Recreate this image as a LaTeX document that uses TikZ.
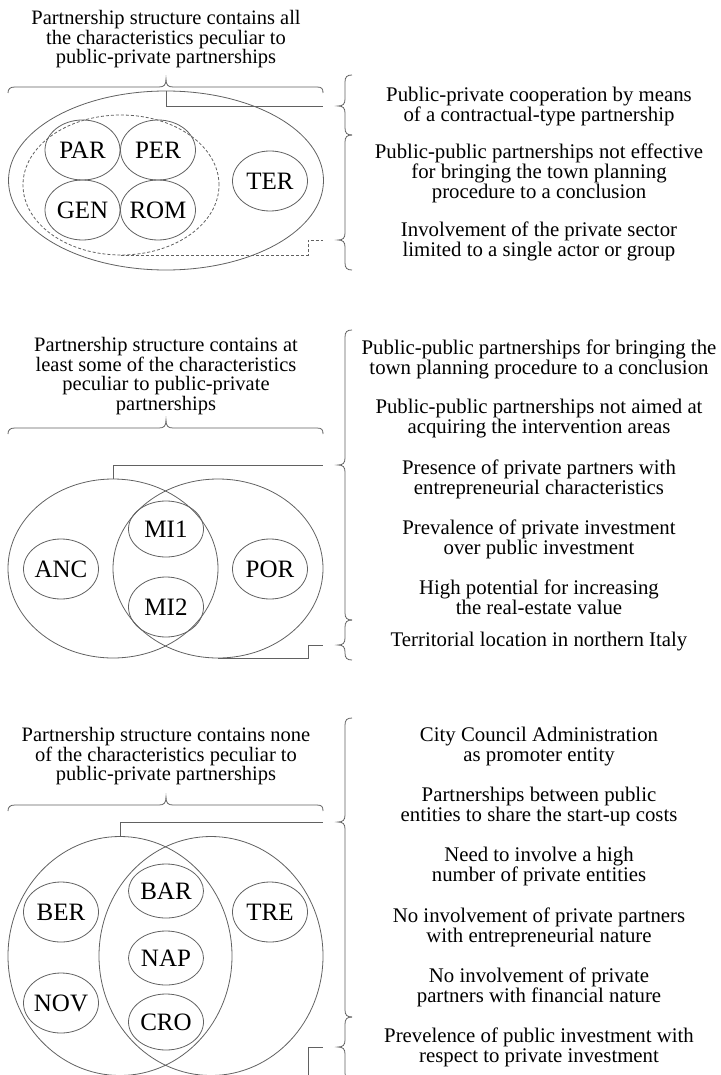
\documentclass[tikz,border=0pt]{standalone}
\usepackage{fontspec}
\setmainfont{Liberation Serif}
\usetikzlibrary{shapes.geometric}
\newcommand\rst{\rule[-5pt]{0pt}{14.8pt}}
\newcommand\tst{\rule[-5pt]{0pt}{14.5pt}}
% vertical brace: top y, tip y, bottom y
\newcommand\vbr[3]{\draw[lc] (352,#1) .. controls (347,#1) and (345,#1+2) .. (345,#1+7) -- (345,#2-7) .. controls (345,#2-2) and (343,#2) .. (338,#2) .. controls (343,#2) and (345,#2+2) .. (345,#2+7) -- (345,#3-7) .. controls (345,#3-2) and (347,#3) .. (352,#3);}
% horizontal brace: body y
\newcommand\hbr[1]{\draw[lc] (8,#1+6) .. controls (8,#1+2) and (10,#1) .. (15,#1) -- (159,#1) .. controls (164,#1) and (166,#1-2) .. (166,#1-8) .. controls (166,#1-2) and (168,#1) .. (173,#1) -- (317,#1) .. controls (322,#1) and (323,#1+2) .. (323,#1+6);}
\begin{document}
\begin{tikzpicture}[x=1pt,y=-1pt,
  lc/.style={draw=black!62, line width=0.8pt},
  dsh/.style={lc, dash pattern=on 3pt off 2pt},
  bigell/.style={ellipse, lc, inner sep=0pt},
  sm/.style={ellipse, lc, inner sep=-3pt, minimum width=75pt, minimum height=60pt, font=\fontsize{25}{30}\selectfont, text=black},
  rtxt/.style={anchor=north, align=center, inner sep=0pt, font=\fontsize{20.8}{20}\selectfont, execute at begin node=\rst},
  ttl/.style={anchor=north, align=center, inner sep=0pt, font=\fontsize{20.5}{19.5}\selectfont, execute at begin node=\tst}
]
\useasboundingbox (0,0) rectangle (720,1075);
\clip (0,0) rectangle (720,1075);

% ===== Top section =====
\node[ttl] (h1) at (166,10.5) {Partnership structure contains all\\the characteristics peculiar to\\public-private partnerships};
\hbr{87}
\node[bigell, minimum width=315pt, minimum height=179pt] (outT) at (166,180.5) {};
\node[bigell, dsh, minimum width=196pt, minimum height=140pt] (dshT) at (121,185) {};
\node[sm] (par) at (82.5,150) {PAR};
\node[sm] (per) at (158,150) {PER};
\node[sm] (gen) at (82.5,210) {GEN};
\node[sm] (rom) at (158,210) {ROM};
\node[sm] (ter) at (270,181) {TER};
\coordinate (tA) at (323,106);
\coordinate (kB) at (308,240);
\coordinate (tB) at (323,240);
\draw[lc] (outT.north) |- (tA);
\draw[dsh] (dshT.south) -| (kB) -- (tB);
\vbr{75}{106}{135}
\vbr{135}{240}{270}
\node[rtxt] (a1) at (539,87.2) {Public-private cooperation by means\\of a contractual-type partnership};
\node[rtxt] (a2) at (539,143.2) {Public-public partnerships not effective\\for bringing the town planning\\procedure to a conclusion};
\node[rtxt] (a3) at (539,221.7) {Involvement of the private sector\\limited to a single actor or group};

% ===== Middle section =====
\node[ttl] (h2) at (166,337.5) {Partnership structure contains at\\least some of the characteristics\\peculiar to public-private\\partnerships};
\hbr{428}
\node[bigell, minimum width=210pt, minimum height=179pt] (vL) at (113,568.5) {};
\node[bigell, minimum width=210pt, minimum height=179pt] (vR) at (218,568.5) {};
\node[sm, minimum height=56pt] (mi1) at (166,529) {MI1};
\node[sm] (mi2) at (166,607) {MI2};
\node[sm] (anc) at (61,569) {ANC};
\node[sm] (por) at (270,569) {POR};
\coordinate (tD) at (323,465);
\coordinate (kE) at (308,645);
\coordinate (tE) at (323,645);
\draw[lc] (vL.north) |- (tD);
\draw[lc] (vR.south) -| (kE) -- (tE);
\vbr{330}{465}{620}
\vbr{620}{645}{660}
\node[rtxt] (b1) at (539,339.2) {Public-public partnerships for bringing the\\town planning procedure to a conclusion};
\node[rtxt] (b2) at (539,399.2) {Public-public partnerships not aimed at\\acquiring the intervention areas};
\node[rtxt] (b3) at (539,459.2) {Presence of private partners with\\entrepreneurial characteristics};
\node[rtxt] (b4) at (539,519.2) {Prevalence of private investment\\over public investment};
\node[rtxt] (b5) at (539,579.2) {High potential for increasing\\the real-estate value};
\node[rtxt] (b6) at (539,632.2) {Territorial location in northern Italy};

% ===== Bottom section =====
\node[ttl] (h3) at (166,727.5) {Partnership structure contains none\\of the characteristics peculiar to\\public-private partnerships};
\hbr{805}
\node[bigell, minimum width=224pt, minimum height=239pt] (wL) at (120,956) {};
\node[bigell, minimum width=224pt, minimum height=239pt] (wR) at (211,956) {};
\node[sm] (ber) at (61,912) {BER};
\node[sm] (tre) at (270,912) {TRE};
\node[sm, minimum height=54pt] (bar) at (166,891) {BAR};
\node[sm, minimum height=54pt] (nap) at (166,958) {NAP};
\node[sm] (nov) at (61,1003) {NOV};
\node[sm, minimum height=56pt] (cro) at (166,1022) {CRO};
\coordinate (tF) at (323,822);
\coordinate (kG) at (308,1047);
\coordinate (tG) at (323,1047);
\draw[lc] (wL.north) |- (tF);
\draw[lc] (wR.south) -| (kG) -- (tG);
\vbr{718}{822}{1017}
\vbr{1017}{1047}{1080}
\node[rtxt] (c1) at (539,727.2) {City Council Administration\\as promoter entity};
\node[rtxt] (c2) at (539,787.2) {Partnerships between public\\entities to share the start-up costs};
\node[rtxt] (c3) at (539,847.2) {Need to involve a high\\number of private entities};
\node[rtxt] (c4) at (539,907.2) {No involvement of private partners\\with entrepreneurial nature};
\node[rtxt] (c5) at (539,967.2) {No involvement of private\\partners with financial nature};
\node[rtxt] (c6) at (539,1027.2) {Prevelence of public investment with\\respect to private investment};
\end{tikzpicture}
\end{document}
